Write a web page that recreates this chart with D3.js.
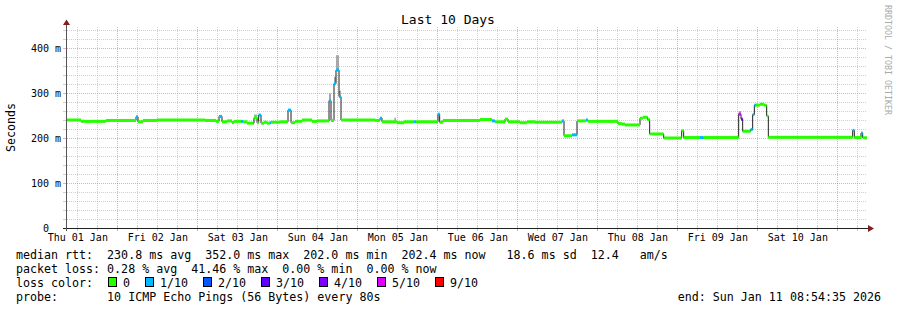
<!DOCTYPE html>
<html><head><meta charset="utf-8">
<script src="https://cdn.jsdelivr.net/npm/d3@7"></script>
<style>
html,body{margin:0;padding:0;background:#fff;}
svg{display:block;font-family:"DejaVu Sans Mono",monospace;}
text{white-space:pre;}
</style></head><body>
<svg id="chart" width="897" height="310"></svg>
<script>
// ---------- data ----------
const title = "Last 10 Days";
const yAxisTitle = "Seconds";
const watermark = "RRDTOOL / TOBI OETIKER";
const yTickValues = [0, 100, 200, 300, 400];
const yTickLabels = ["0  ", "100 m", "200 m", "300 m", "400 m"];

// step start times, hours after the graph start (Thu 01 Jan 08:54:35)
const stepHours = [
  0,4.2,11.7,20.7,21.3,22.8,27.0,41.4,44.7,45.6,
  46.5,48.0,49.5,50.1,52.2,52.8,54.0,55.8,56.1,57.0,
  57.5,58.2,59.1,60.0,60.9,61.2,63.9,66.3,67.2,68.4,
  70.5,73.5,75.0,78.6,79.2,80.1,80.7,81.6,82.2,92.4,
  93.9,94.5,99.0,101.1,104.1,104.7,111.3,111.8,112.8,123.9,
  127.5,128.4,131.4,132.3,135.9,138.0,140.4,148.5,149.1,151.5,
  153.0,155.7,156.3,165.3,166.5,167.4,171.9,172.8,174.2,174.8,
  179.0,184.4,185.0,189.9,191.0,201.5,202.2,202.7,205.1,205.7,
  206.2,206.7,207.9,209.1,209.9,210.4,235.7,236.2,238.2,238.7,
  240
];
// median rtt (ms)
const medianMs = [
  240,237,239,247,236,239,240,239,237,248,
  236,238,234,237,237,236,233,233,245,234,
  251,233,235,233,234,235,236,262,234,237,
  240,237,238,283,239,321,351,292,240,239,
  244,236,234,236,236,236,253,235,239,241,
  238,236,242,236,234,236,235,238,205,207,
  238,240,237,232,231,229,244,246,241,209,
  200,216,201,201,201,253,242,215,219,252,
  273,273,275,273,249,201.5,217,201,211,200.5,
  200.5
];
// loss level index (into lossColors)
const lossLevel = [
  0,0,0,1,0,0,0,0,0,1,
  0,0,0,0,1,0,0,1,0,0,
  1,0,0,0,1,0,0,1,0,0,
  0,0,0,1,0,1,1,1,0,0,
  1,0,0,0,1,0,1,0,0,0,
  1,0,0,0,0,0,0,1,0,1,
  0,1,0,0,0,0,0,0,0,0,
  0,0,0,1,0,5,3,0,1,1,
  1,0,0,0,0,0,1,0,1,0,
  0
];
// smoke (spread of pings) visible above the median
const smokeStartH = [56.1, 78.6, 80.1, 80.7, 81.6, 98.2, 201.5];
const smokeEndH   = [57.0, 79.2, 80.7, 81.6, 82.2, 98.7, 202.2];
const smokeTopMs  = [252, 299, 336, 384, 305, 245, 260];

const lossLabels = ["0", "1/10", "2/10", "3/10", "4/10", "5/10", "9/10"];
const lossColors = ["#26ff00", "#00b8ff", "#0059ff", "#5e00ff", "#7e00ff", "#dd00ff", "#ff0000"];

const statLine1 = "median rtt:  230.8 ms avg  352.0 ms max  202.0 ms min  202.4 ms now   18.6 ms sd  12.4   am/s";
const statLine2 = "packet loss: 0.28 % avg  41.46 % max  0.00 % min  0.00 % now";
const statLine3 = "loss color:";
const statLine4 = "probe:       10 ICMP Echo Pings (56 Bytes) every 80s";
const endLabel = "end: Sun Jan 11 08:54:35 2026";

// ---------- drawing ----------
const t0 = Date.UTC(2026, 0, 1, 8, 54, 35);
const tEnd = Date.UTC(2026, 0, 11, 8, 54, 35);
const toDate = h => new Date(t0 + h * 3600e3);

const x = d3.scaleUtc().domain([new Date(t0), new Date(tEnd)]).range([67, 867]);
const y = d3.scaleLinear().domain([0, 444.444]).range([228, 28]);

const svg = d3.select("#chart");
svg.append("rect").attr("width", 897).attr("height", 310).attr("fill", "#fff");

const minorCol = "rgba(143,143,143,0.42)";
const majorCol = "rgba(222,80,80,0.48)";

// vertical grid (6h minor, midnight major)
const vTimes = d3.utcHour.every(6).range(x.domain()[0], x.domain()[1]);
const grid = svg.append("g");
vTimes.forEach(d => {
  const px = Math.round(x(d)) + 0.5;
  const major = d.getUTCHours() === 0;
  grid.append("line").attr("x1", px).attr("x2", px).attr("y1", 27).attr("y2", 226)
    .attr("stroke", major ? majorCol : minorCol).attr("stroke-dasharray", "1,1");
  grid.append("line").attr("x1", px).attr("x2", px).attr("y1", 226).attr("y2", 231)
    .attr("stroke", major ? majorCol : minorCol);
});
// horizontal grid (20ms minor, 100ms major)
d3.range(20, 441, 20).forEach(v => {
  const py = Math.round(y(v)) + 0.5;
  const major = v % 100 === 0;
  grid.append("line").attr("x1", 67).attr("x2", 867).attr("y1", py).attr("y2", py)
    .attr("stroke", major ? majorCol : minorCol).attr("stroke-dasharray", "1,1");
  grid.append("line").attr("x1", 63).attr("x2", 67).attr("y1", py).attr("y2", py)
    .attr("stroke", major ? majorCol : minorCol);
});

// smoke
const plot = svg.append("g");
smokeStartH.forEach((s, i) => {
  const idx = d3.bisectRight(stepHours, s) - 1;
  const med = medianMs[Math.max(0, idx)];
  plot.append("rect")
    .attr("x", x(toDate(s))).attr("width", Math.max(1, x(toDate(smokeEndH[i])) - x(toDate(s))))
    .attr("y", y(smokeTopMs[i])).attr("height", y(med) - y(smokeTopMs[i]))
    .attr("fill", "#a8a8a8");
});

// median line
const pts = stepHours.map((h, i) => [x(toDate(h)), y(medianMs[i])]);
plot.append("path")
  .attr("d", d3.line().curve(d3.curveStepAfter)(pts))
  .attr("fill", "none").attr("stroke", "#202020").attr("stroke-width", 1);

// loss colored band
for (let i = 0; i < stepHours.length - 1; i++) {
  const x0 = x(toDate(stepHours[i])), x1 = x(toDate(stepHours[i + 1]));
  plot.append("rect")
    .attr("x", x0).attr("width", x1 - x0)
    .attr("y", y(medianMs[i]) - 1.5).attr("height", 3)
    .attr("fill", lossColors[lossLevel[i]]);
}

// axes lines + arrows
svg.append("line").attr("x1", 63).attr("x2", 870).attr("y1", 228.5).attr("y2", 228.5).attr("stroke", "#202020");
svg.append("line").attr("x1", 66.5).attr("x2", 66.5).attr("y1", 231).attr("y2", 24).attr("stroke", "#555");
svg.append("path").attr("d", "M868,225 L874,228.5 L868,232 Z").attr("fill", "#7f1f1f");
svg.append("path").attr("d", "M63,25 L66.5,19.5 L70,25 Z").attr("fill", "#7f1f1f");

// x axis labels
const noons = d3.utcHour.every(12).range(x.domain()[0], x.domain()[1]).filter(d => d.getUTCHours() === 12);
const xAxis = svg.append("g").attr("transform", "translate(0,228)")
  .call(d3.axisBottom(x).tickValues(noons).tickFormat(d3.utcFormat("%a %d %b")).tickSize(0).tickPadding(6));
xAxis.select(".domain").remove();
xAxis.selectAll("text").attr("font-family", "DejaVu Sans Mono").attr("font-size", 10).attr("fill", "#000");

// y axis labels
const yAxis = svg.append("g").attr("transform", "translate(67,0)")
  .call(d3.axisLeft(y).tickValues(yTickValues).tickFormat((d, i) => yTickLabels[i]).tickSize(0).tickPadding(6));
yAxis.select(".domain").remove();
yAxis.selectAll("text").attr("font-family", "DejaVu Sans Mono").attr("font-size", 10).attr("fill", "#000");

// title, axis title, watermark
svg.append("text").attr("x", 448).attr("y", 23.5).attr("text-anchor", "middle")
  .attr("font-size", 13).text(title);
svg.append("text").attr("transform", "translate(15,127.5) rotate(-90)").attr("text-anchor", "middle")
  .attr("font-size", 11.65).text(yAxisTitle);
svg.append("text").attr("transform", "translate(885,5) rotate(90)").attr("text-anchor", "start")
  .attr("font-size", 8.3).attr("fill", "#aaa").text(watermark);

// legend
const lg = svg.append("g").attr("font-size", 11.65).attr("fill", "#000");
[statLine1, statLine2, statLine3, statLine4].forEach((s, i) => {
  lg.append("text").attr("x", 16).attr("y", 258.5 + i * 14).text(s);
});
let bx = 108;
lossLabels.forEach((lab, i) => {
  lg.append("rect").attr("x", bx + 0.5).attr("y", 277.5).attr("width", 8).attr("height", 9)
    .attr("fill", lossColors[i]).attr("stroke", "#000");
  lg.append("text").attr("x", bx + 15).attr("y", 286.5).text(lab);
  bx = bx + 15 + lab.length * 7 + 15;
});
lg.append("text").attr("x", 881).attr("y", 300.5).attr("text-anchor", "end").text(endLabel);
</script>
</body></html>
